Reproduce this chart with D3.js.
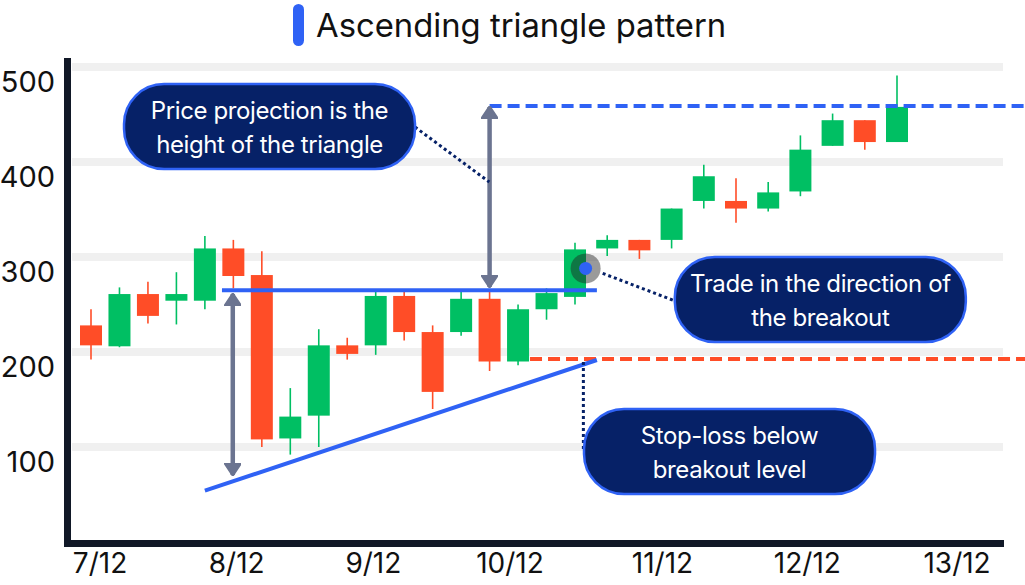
<!DOCTYPE html>
<html>
<head>
<meta charset="utf-8">
<script src="https://cdn.jsdelivr.net/npm/d3@7"></script>
<style>
  html, body { margin: 0; padding: 0; background: #ffffff; }
  svg { display: block; }
  text { font-family: Inter, "Noto Sans", sans-serif; }
</style>
</head>
<body>
<svg id="chart" width="1025" height="585"></svg>
<script>
// ---------- data ----------
const title = "Ascending triangle pattern";
const opens  = [228,206,261,254,254,309,281,109,133,207,207,259,221,221,256,190,245,258,309,318,318,359,359,351,369,417,444,421];
const closes = [207,261,238,261,309,280,108,132,207,198,259,221,158,256,190,245,262,308,318,307,351,385,351,368,413,444,421,458];
const highs  = [245,268,274,284,322,318,306,162,224,215,265,264,228,265,264,250,267,315,323,318,351,397,383,379,428,451,444,491];
const lows   = [192,205,230,229,245,267,100, 92,100,192,197,212,140,217,180,186,234,250,301,298,309,351,336,348,364,417,413,421];
const yTicks = [100, 200, 300, 400, 500];
const xTickLabels = ["7/12","8/12","9/12","10/12","11/12","12/12","13/12"];
const xTickPos    = [0.3, 5.1, 9.9, 14.7, 19.7, 24.2, 28.85];

// pattern lines (candle index, price)
const resistance = [[4.6, 265], [17.68, 265]];
const support    = [[4.0, 54], [17.68, 191.6]];
const stopLoss   = [[15.42, 192.6], [31, 192.6]];
const target     = [[14.0, 459], [31, 459]];
const heightArrowLeft  = [[4.98, 261], [4.98, 70.5]];
const heightArrowRight = [[14.0, 268.5], [14.0, 458]];
const breakout = [17.33, 288];

// annotations: anchor (index, price) of top-left, lines of text
const notes = [
  { at: [1.16, 482], lines: ["Price projection is the", "height of the triangle"] },
  { at: [20.1, 300], lines: ["Trade in the direction of", "the breakout"] },
  { at: [17.28, 140], lines: ["Stop-loss below", "breakout level"] }
];
const connectors = [
  [[11.38, 436.8], [13.99, 378.9]],
  [[17.86, 282.8], [20.11, 253.7]],
  [[17.26, 189.5], [17.26, 94.7]]
];

// ---------- scales ----------
const svg = d3.select("#chart");
const x = d3.scaleLinear().domain([0, 17, 27]).range([91, 575, 897]);
const y = d3.scaleLinear().domain([0, 500]).range([542, 67]);

const GREEN = "#00bf63", RED = "#ff4d27", BLUE = "#2f62f5", NAVY = "#062167", SLATE = "#6b7490", AXIS = "#111827";

// title
svg.append("rect").attr("x", 293).attr("y", 4).attr("width", 11).attr("height", 42).attr("rx", 5.5).attr("fill", BLUE);
svg.append("text").attr("x", 316).attr("y", 37).attr("font-size", 32.8).attr("fill", "#111").text(title);

// gridlines
svg.append("g").selectAll("line").data(yTicks).join("line")
  .attr("x1", 72).attr("x2", 1003)
  .attr("y1", d => y(d)).attr("y2", d => y(d))
  .attr("stroke", "#f0f0f0").attr("stroke-width", 8);

// candles
const candles = d3.range(opens.length).map(i => ({i, o: opens[i], c: closes[i], h: highs[i], l: lows[i]}));
const cg = svg.append("g");
cg.selectAll("line").data(candles).join("line")
  .attr("x1", d => x(d.i)).attr("x2", d => x(d.i))
  .attr("y1", d => y(d.h)).attr("y2", d => y(d.l))
  .attr("stroke", d => d.c >= d.o ? GREEN : RED).attr("stroke-width", 1.6);
cg.selectAll("rect").data(candles).join("rect")
  .attr("x", d => x(d.i) - 11).attr("width", 22)
  .attr("y", d => y(Math.max(d.o, d.c)))
  .attr("height", d => Math.max(2, Math.abs(y(d.o) - y(d.c))))
  .attr("fill", d => d.c >= d.o ? GREEN : RED);

// lines
const line = d3.line().x(d => x(d[0])).y(d => y(d[1]));
svg.append("path").attr("d", line(stopLoss)).attr("fill", "none").attr("stroke", RED).attr("stroke-width", 4).attr("stroke-dasharray", "12 6");
svg.append("path").attr("d", line(target)).attr("fill", "none").attr("stroke", BLUE).attr("stroke-width", 4).attr("stroke-dasharray", "12 6");
svg.append("path").attr("d", line(resistance)).attr("fill", "none").attr("stroke", BLUE).attr("stroke-width", 4);
svg.append("path").attr("d", line(support)).attr("fill", "none").attr("stroke", BLUE).attr("stroke-width", 4);

// arrows
const defs = svg.append("defs");
defs.append("marker").attr("id", "ah").attr("viewBox", "0 0 12 16").attr("refX", 11).attr("refY", 8)
  .attr("markerUnits", "userSpaceOnUse").attr("markerWidth", 13).attr("markerHeight", 17)
  .attr("orient", "auto-start-reverse")
  .append("path").attr("d", "M0,0 L12,8 L0,16 Z").attr("fill", SLATE).attr("stroke", SLATE).attr("stroke-linejoin", "round").attr("stroke-width", 1.5);
[heightArrowLeft, heightArrowRight].forEach(a => {
  svg.append("path").attr("d", line(a)).attr("fill", "none").attr("stroke", SLATE).attr("stroke-width", 4.5)
    .attr("marker-start", "url(#ah)").attr("marker-end", "url(#ah)");
});

// connectors
svg.append("g").selectAll("path").data(connectors).join("path")
  .attr("d", d => line(d)).attr("fill", "none").attr("stroke", NAVY).attr("stroke-width", 3).attr("stroke-dasharray", "3 3");

// breakout marker
svg.append("circle").attr("cx", x(breakout[0])).attr("cy", y(breakout[1])).attr("r", 15).attr("fill", "#1e1e1e").attr("opacity", 0.45);
svg.append("circle").attr("cx", x(breakout[0])).attr("cy", y(breakout[1])).attr("r", 6.5).attr("fill", BLUE);

// note boxes
const ng = svg.append("g").selectAll("g").data(notes).join("g")
  .attr("transform", d => `translate(${x(d.at[0])},${y(d.at[1])})`);
ng.append("rect").attr("width", 291).attr("height", 85).attr("rx", 40).attr("ry", 40)
  .attr("fill", NAVY).attr("stroke", BLUE).attr("stroke-width", 2.5);
ng.each(function(d) {
  const g = d3.select(this);
  d.lines.forEach((t, k) => {
    g.append("text").attr("x", 145.5).attr("y", 35 + k * 34).attr("text-anchor", "middle")
      .attr("font-size", 24).attr("fill", "#fff").attr("letter-spacing", -0.4).text(t);
  });
});

// axes
const yAxis = svg.append("g").attr("transform", "translate(67,0)")
  .call(d3.axisLeft(y).tickValues(yTicks).tickSize(0).tickPadding(12).tickFormat(d3.format("d")));
yAxis.select(".domain").remove();
yAxis.selectAll("text").attr("font-size", 29).attr("fill", "#111").attr("dy", "0.85em").attr("font-family", "Inter, sans-serif");

const xAxis = svg.append("g").attr("transform", "translate(0,543)")
  .call(d3.axisBottom(x).tickValues(xTickPos).tickSize(0).tickPadding(10).tickFormat((d, i) => xTickLabels[i]));
xAxis.select(".domain").remove();
xAxis.selectAll("text").attr("font-size", 28).attr("fill", "#111").attr("font-family", "Inter, sans-serif");

svg.append("line").attr("x1", 67.5).attr("x2", 67.5).attr("y1", 58).attr("y2", 547).attr("stroke", AXIS).attr("stroke-width", 7);
svg.append("line").attr("x1", 64).attr("x2", 1004).attr("y1", 543.5).attr("y2", 543.5).attr("stroke", AXIS).attr("stroke-width", 7);
</script>
</body>
</html>
